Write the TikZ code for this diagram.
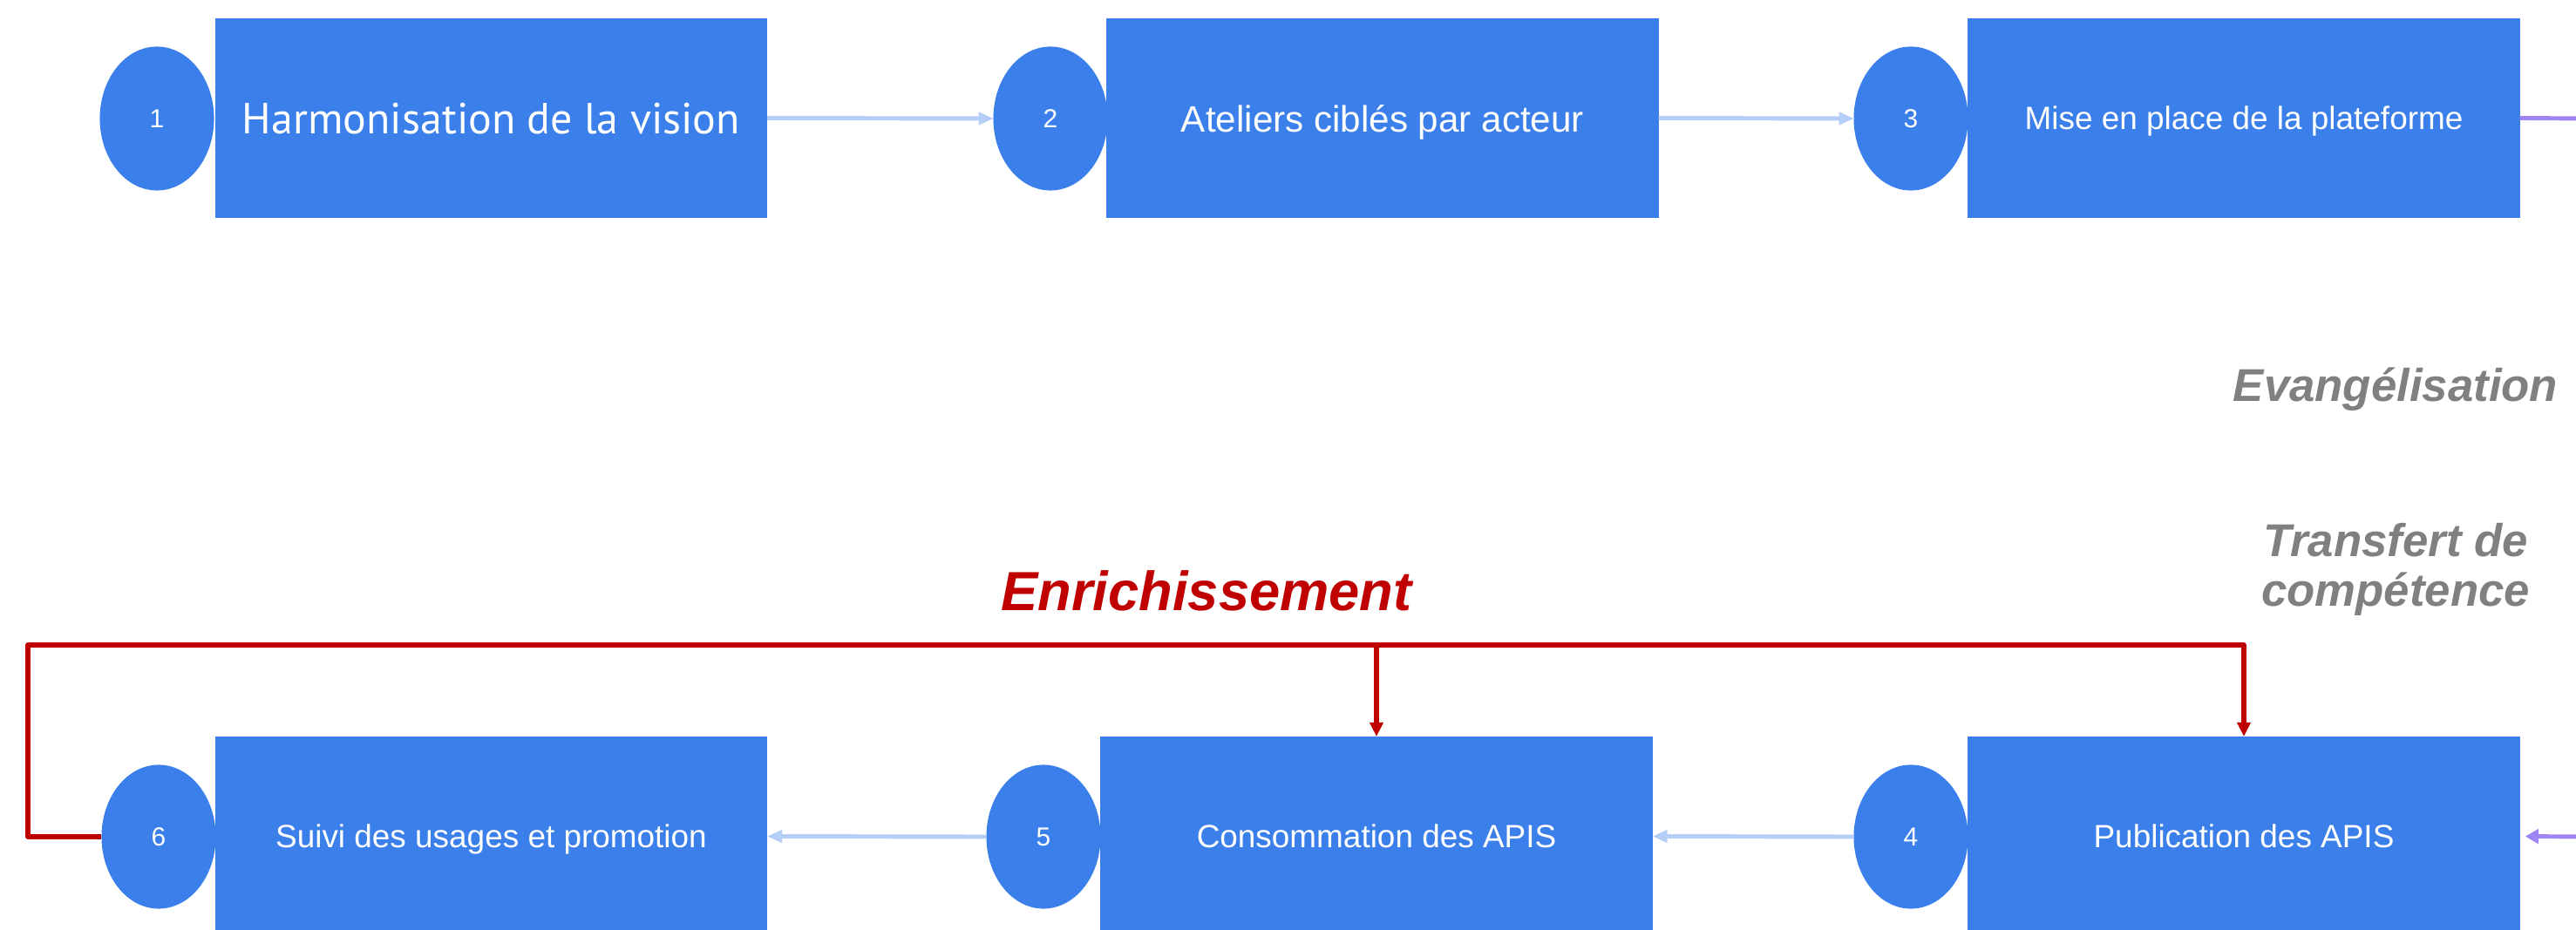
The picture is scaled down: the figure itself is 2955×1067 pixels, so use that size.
\documentclass[tikz,border=0pt]{standalone}
\usepackage{fontspec}
\setmainfont{Liberation Sans}
\newfontfamily\roundfont{PT Sans}
\usetikzlibrary{arrows.meta,shapes.geometric}
\definecolor{stepblue}{HTML}{3B7FEB}
\definecolor{flowblue}{HTML}{B4CEF7}
\definecolor{loopviolet}{HTML}{9F85F3}
\definecolor{feedred}{HTML}{C00000}
\definecolor{notegray}{HTML}{808080}
\tikzset{
  stepbox/.style={fill=stepblue,text=white,minimum width=6.33cm,minimum height=2.29cm,inner sep=0pt,outer sep=0pt,text depth=0pt,font=\fontsize{10.5}{12}\selectfont},
  numdisc/.style={ellipse,fill=stepblue,text=white,minimum width=1.31cm,minimum height=1.65cm,inner sep=0pt,outer sep=0pt,font=\fontsize{8.5}{10}\selectfont},
  flowline/.style={draw=flowblue,line width=1.4pt,-{Triangle[length=4.8pt,width=4pt]}},
  loopline/.style={draw=loopviolet,line width=1.4pt},
  feedline/.style={draw=feedred,line width=1.55pt,line join=round,-{Triangle[length=4.6pt,width=4.3pt]}},
  sidenote/.style={text=notegray,font=\bfseries\itshape\fontsize{15}{16.2}\selectfont,inner sep=0pt,align=center}
}
\begin{document}
\begin{tikzpicture}[x=0.01cm,y=-0.01cm]
\useasboundingbox (0,0) rectangle (2955,1067);
\clip (0,0) rectangle (2955,1067);
% top row
\node[numdisc] (n1) at (180,136) {1};
\node[stepbox,font=\roundfont\fontsize{14.2}{17}\selectfont] (s1) at (563.5,135.5) {Harmonisation de la vision};
\node[numdisc] (n2) at (1205,136) {2};
\node[stepbox,font=\fontsize{12}{14}\selectfont] (s2) at (1586,135.5) {Ateliers ciblés par acteur};
\node[numdisc] (n3) at (2192,136) {3};
\node[stepbox] (s3) at (2574,135.5) {Mise en place de la plateforme};
% bottom row
\node[numdisc] (n4) at (2192,960) {4};
\node[stepbox] (s4) at (2574,959.5) {Publication des APIS};
\node[numdisc] (n5) at (1197,960) {5};
\node[stepbox] (s5) at (1579,959.5) {Consommation des APIS};
\node[numdisc] (n6) at (182,960) {6};
\node[stepbox] (s6) at (563.5,959.5) {Suivi des usages et promotion};
%
\draw[flowline] (s1.east) -- (n2.west);
\draw[flowline] (s2.east) -- (n3.west);
\draw[flowline] (n4.west) -- (s5.east);
\draw[flowline] (n5.west) -- (s6.east);
%
\coordinate (outtop) at (2970,136);
\coordinate (outbottom) at (2970,960);
\draw[loopline] (s3.east) -- (outtop);
\draw[loopline,-{Triangle[length=4.3pt,width=4.6pt]},shorten >=0.06cm] (outbottom) -- (s4.east);
%
\coordinate (feedcorner) at (32,740);
\draw[feedline] (n6.west) -| (feedcorner) -| (s4.north);
\draw[feedline] (s5.north |- feedcorner) -- (s5.north);
%
\node[text=feedred,font=\bfseries\itshape\fontsize{18}{20}\selectfont,anchor=base,inner sep=0pt] (enrich) at (1384,700) {Enrichissement};
\node[sidenote,anchor=base] (evang) at (2748,461) {Evangélisation};
\node[sidenote,anchor=base] (transfert) at (2748,695) {Transfert de\\compétence};
\end{tikzpicture}
\end{document}
